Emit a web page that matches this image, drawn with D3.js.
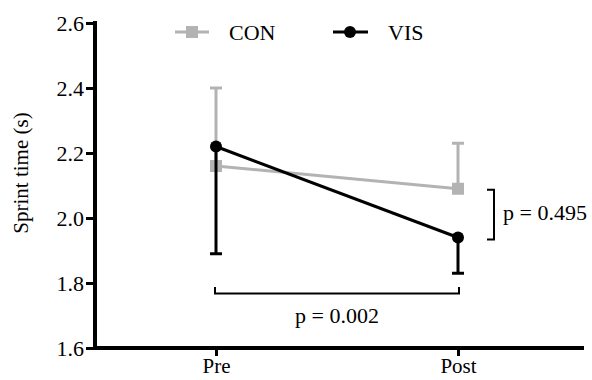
<!DOCTYPE html>
<html><head><meta charset="utf-8">
<script src="https://cdn.jsdelivr.net/npm/d3@7"></script>
<style>body{margin:0;background:#fff}svg{display:block}</style>
</head><body><svg id="c" width="592" height="380"></svg>
<script>
const categories = ["Pre", "Post"];
const conMean = [2.16, 2.09];
const conErrUp = [2.40, 2.23];
const visMean = [2.22, 1.94];
const visErrDown = [1.89, 1.83];
const yTicks = [1.6, 1.8, 2.0, 2.2, 2.4, 2.6];
const seriesNames = ["CON", "VIS"];
const pLabels = ["p = 0.002", "p = 0.495"];

const FONT = "'Liberation Serif', Tinos, 'Times New Roman', Times, 'DejaVu Serif', serif";
const svg = d3.select("#c");
const x = d3.scalePoint().domain(categories).range([216, 458]);
const y = d3.scaleLinear().domain([1.6, 2.6]).range([348, 23]);
const gray = "#b3b3b3";
const txt = s => s.style("font-family", FONT).style("fill", "#000");

// axes
const ya = svg.append("g").attr("transform","translate(95,0)")
  .call(d3.axisLeft(y).tickValues(yTicks).tickFormat(d3.format(".1f")).tickSize(9).tickPadding(2));
ya.select(".domain").style("stroke","#000").style("stroke-width","4px").attr("d","M0,21V350");
ya.selectAll(".tick line").style("stroke-width","3px");
ya.selectAll("text").style("font-size","22px").attr("dy","0.35em").call(txt);

const xa = svg.append("g").attr("transform","translate(0,348)")
  .call(d3.axisBottom(x).tickSize(8).tickPadding(2));
xa.select(".domain").style("stroke","#000").style("stroke-width","4px").attr("d","M93,0H584");
xa.selectAll(".tick line").style("stroke-width","3px");
xa.selectAll("text").style("font-size","21px").attr("dy","0.71em").call(txt);

// y label
svg.append("text").attr("transform","translate(28,173) rotate(-90)")
  .attr("text-anchor","middle").style("font-size","21px").text("Sprint time (s)").call(txt);

const line = d3.line().x((d,i)=>x(categories[i])).y(d=>y(d));

// CON error bars (up)
categories.forEach((c,i)=>{
  svg.append("line").attr("x1",x(c)).attr("x2",x(c)).attr("y1",y(conMean[i])).attr("y2",y(conErrUp[i]))
    .attr("stroke",gray).attr("stroke-width",3);
  svg.append("line").attr("x1",x(c)-6).attr("x2",x(c)+6).attr("y1",y(conErrUp[i])).attr("y2",y(conErrUp[i]))
    .attr("stroke",gray).attr("stroke-width",3);
});
svg.append("path").attr("d",line(conMean)).attr("fill","none").attr("stroke",gray).attr("stroke-width",3);
svg.selectAll(".sq").data(conMean).enter().append("rect")
  .attr("x",(d,i)=>x(categories[i])-6).attr("y",d=>y(d)-6).attr("width",12).attr("height",12).attr("fill",gray);

// VIS error bars (down)
categories.forEach((c,i)=>{
  svg.append("line").attr("x1",x(c)).attr("x2",x(c)).attr("y1",y(visMean[i])).attr("y2",y(visErrDown[i]))
    .attr("stroke","#000").attr("stroke-width",3);
  svg.append("line").attr("x1",x(c)-6).attr("x2",x(c)+6).attr("y1",y(visErrDown[i])).attr("y2",y(visErrDown[i]))
    .attr("stroke","#000").attr("stroke-width",3);
});
svg.append("path").attr("d",line(visMean)).attr("fill","none").attr("stroke","#000").attr("stroke-width",3);
svg.selectAll(".ci").data(visMean).enter().append("circle")
  .attr("cx",(d,i)=>x(categories[i])).attr("cy",d=>y(d)).attr("r",6).attr("fill","#000");

// bottom bracket
svg.append("path").attr("d",`M${x("Pre")-1},287V293.5H${x("Post")+1}V287`)
  .attr("fill","none").attr("stroke","#000").attr("stroke-width",2);
svg.append("text").attr("x",(x("Pre")+x("Post"))/2).attr("y",323).attr("text-anchor","middle")
  .style("font-size","22px").text(pLabels[0]).call(txt);

// right bracket
svg.append("path").attr("d",`M487,${y(conMean[1])+1}H494V${y(visMean[1])+2}H487`)
  .attr("fill","none").attr("stroke","#000").attr("stroke-width",2);
svg.append("text").attr("x",503).attr("y",(y(conMean[1])+y(visMean[1]))/2+7)
  .style("font-size","22px").text(pLabels[1]).call(txt);

// legend
const lg = svg.append("g");
lg.append("line").attr("x1",175).attr("x2",209).attr("y1",32).attr("y2",32).attr("stroke",gray).attr("stroke-width",3);
lg.append("rect").attr("x",186).attr("y",26).attr("width",12).attr("height",12).attr("fill",gray);
lg.append("text").attr("x",229).attr("y",40).style("font-size","22px").text(seriesNames[0]).call(txt);
lg.append("line").attr("x1",333).attr("x2",368).attr("y1",32).attr("y2",32).attr("stroke","#000").attr("stroke-width",3);
lg.append("circle").attr("cx",350).attr("cy",32).attr("r",6).attr("fill","#000");
lg.append("text").attr("x",388).attr("y",40).style("font-size","22px").text(seriesNames[1]).call(txt);
</script></body></html>
